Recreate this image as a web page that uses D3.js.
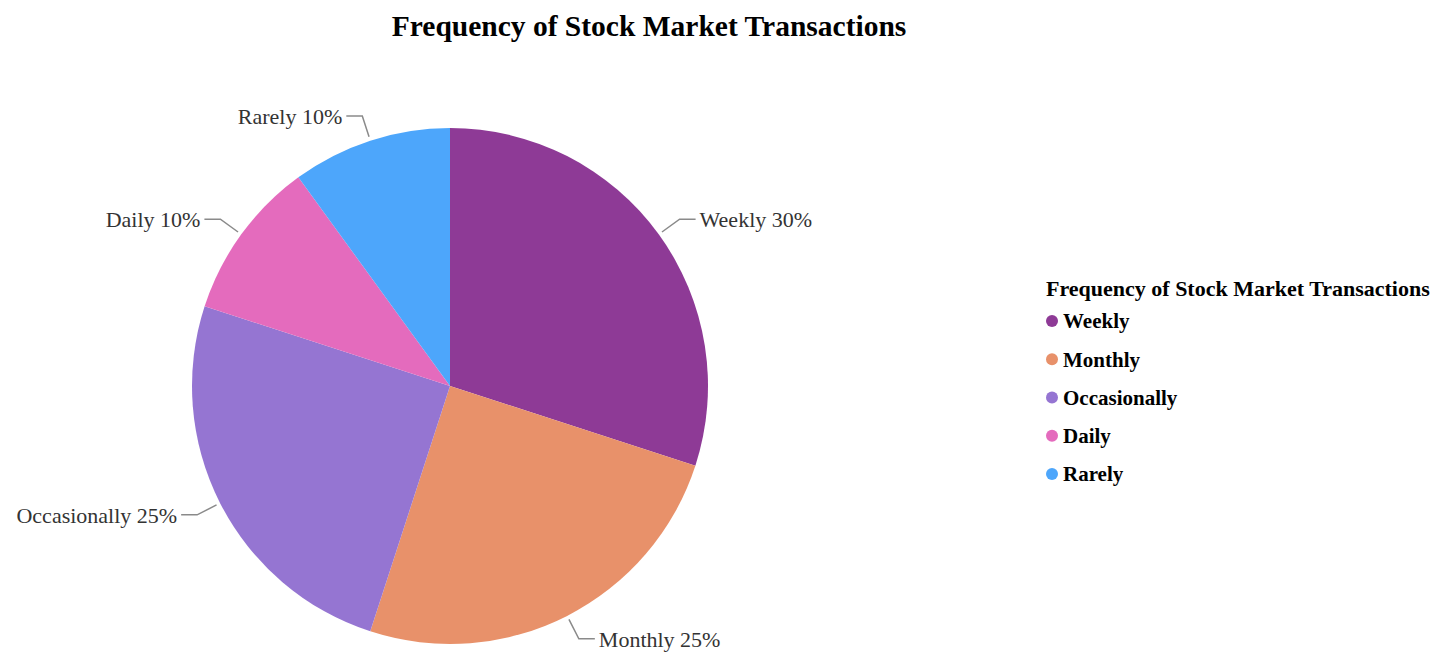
<!DOCTYPE html>
<html>
<head>
<meta charset="utf-8">
<script src="https://cdn.jsdelivr.net/npm/d3@7"></script>
<style>
  body { margin: 0; background: #fff; }
  text { font-family: "Liberation Serif", "Times New Roman", serif; }
</style>
</head>
<body>
<div id="chart"></div>
<script>
const categories = ['Weekly', 'Monthly', 'Occasionally', 'Daily', 'Rarely'];
const values = [30, 25, 25, 10, 10];
const colors = ['#8e3a96', '#e8916a', '#9575d2', '#e46bbd', '#4da6fb'];
const chartTitle = 'Frequency of Stock Market Transactions';

const width = 1450, height = 653;
const cx = 450, cy = 386, radius = 258;

const svg = d3.select('#chart')
    .append('svg')
    .attr('width', width)
    .attr('height', height);

// title
svg.append('text')
    .attr('x', 649)
    .attr('y', 36)
    .attr('text-anchor', 'middle')
    .style('font-size', '29.5px')
    .style('font-weight', 'bold')
    .attr('fill', '#000')
    .text(chartTitle);

const data = categories.map((c, i) => ({ name: c, value: values[i], color: colors[i] }));

const pie = d3.pie().sort(null).value(d => d.value);
const arcs = pie(data);

const arc = d3.arc().innerRadius(0).outerRadius(radius);
const startArc = d3.arc().innerRadius(radius + 4).outerRadius(radius + 4);
const elbowArc = d3.arc().innerRadius(radius * 1.1).outerRadius(radius * 1.1);

const g = svg.append('g').attr('transform', `translate(${cx},${cy})`);

g.selectAll('path.slice')
    .data(arcs)
    .enter()
    .append('path')
    .attr('class', 'slice')
    .attr('d', arc)
    .attr('fill', d => d.data.color);

const side = d => ((d.startAngle + d.endAngle) / 2 < Math.PI ? 1 : -1);

// pointer lines
g.selectAll('polyline')
    .data(arcs)
    .enter()
    .append('polyline')
    .attr('points', d => {
        const a = startArc.centroid(d);
        const b = elbowArc.centroid(d);
        const c = [b[0] + side(d) * 16, b[1]];
        return [a, b, c].map(p => p.join(',')).join(' ');
    })
    .attr('fill', 'none')
    .attr('stroke', '#8a8a8a')
    .attr('stroke-width', 1.5);

// labels
g.selectAll('text.label')
    .data(arcs)
    .enter()
    .append('text')
    .attr('class', 'label')
    .attr('x', d => elbowArc.centroid(d)[0] + side(d) * 20)
    .attr('y', d => elbowArc.centroid(d)[1])
    .attr('dy', '0.35em')
    .attr('text-anchor', d => side(d) > 0 ? 'start' : 'end')
    .style('font-size', '22px')
    .attr('fill', '#333')
    .text(d => `${d.data.name} ${d.data.value}%`);

// legend
const legend = svg.append('g').attr('transform', 'translate(1046,0)');
legend.append('text')
    .attr('x', 0)
    .attr('y', 296)
    .style('font-size', '22px')
    .style('font-weight', 'bold')
    .attr('fill', '#000')
    .text(chartTitle);

const yLegend = d3.scalePoint().domain(categories).range([321, 474]);

const items = legend.selectAll('g.item')
    .data(data)
    .enter()
    .append('g')
    .attr('class', 'item')
    .attr('transform', d => `translate(0,${yLegend(d.name)})`);

items.append('circle')
    .attr('cx', 6)
    .attr('cy', 0)
    .attr('r', 6)
    .attr('fill', d => d.color);

items.append('text')
    .attr('x', 17)
    .attr('y', 0)
    .attr('dy', '0.35em')
    .style('font-size', '21px')
    .style('font-weight', 'bold')
    .attr('fill', '#000')
    .text(d => d.name);
</script>
</body>
</html>
